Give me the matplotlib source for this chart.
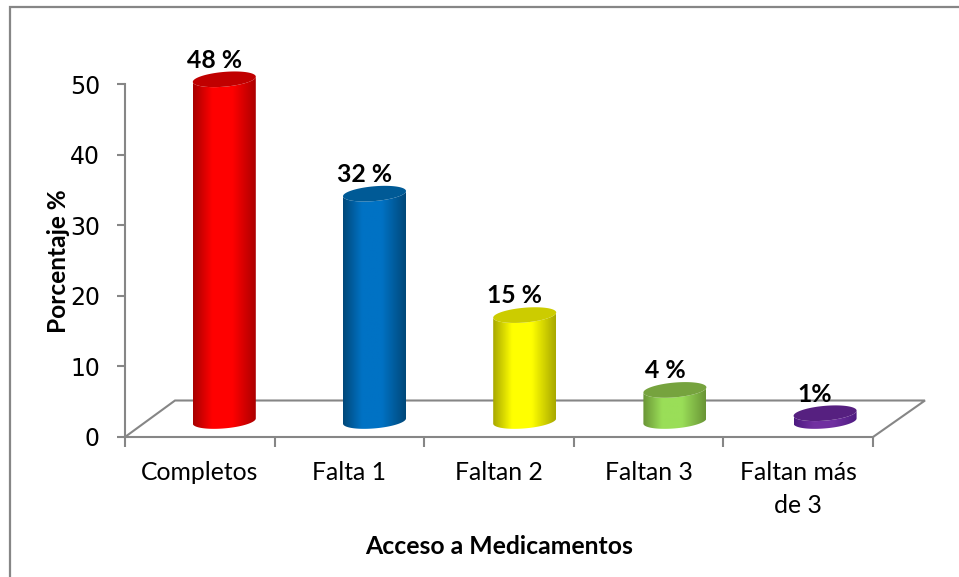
import numpy as np
import matplotlib
matplotlib.use("Agg")
import matplotlib.pyplot as plt
from matplotlib.lines import Line2D
from matplotlib.patches import PathPatch
from matplotlib.path import Path
from matplotlib.colors import LinearSegmentedColormap

categories = ["Completos", "Falta 1", "Faltan 2", "Faltan 3", "Faltan más\nde 3"]
values = [48.4, 32.2, 15.0, 4.4, 1.1]
value_labels = ["48 %", "32 %", "15 %", "4 %", "1%"]
body_edge = ["#a80000", "#00487a", "#a8a800", "#6a9536", "#4d1a80"]
body_mid = ["#ff0000", "#0072c4", "#ffff00", "#9ade58", "#7030a0"]
top_colors = ["#c00000", "#005a96", "#cccc00", "#76a33e", "#562080"]
y_ticks = [0, 10, 20, 30, 40, 50]
GRAY = "#868686"

W, H = 959, 577
plt.rcParams["font.family"] = ["Lato", "DejaVu Sans"]
fig = plt.figure(figsize=(W / 100, H / 100), dpi=100)
L, R, T, B = 125, 873, 84, 437
ax = fig.add_axes([L / W, 1 - B / H, (R - L) / W, (B - T) / H])
ax.set_xlim(0, 5)
ax.set_ylim(0, 50)
px_x = 5 / (R - L)
px_y = 50 / (B - T)

# outer frame: only the left and top edges are visible
fx0, fy0 = 9.5 / W, 1 - 7 / H
fig.add_artist(Line2D([fx0, fx0, 1], [0, fy0, fy0], transform=fig.transFigure,
                      color=GRAY, lw=1.6, solid_joinstyle="miter"))

for s in ["top", "right"]:
    ax.spines[s].set_visible(False)
for s in ["left", "bottom"]:
    ax.spines[s].set_color(GRAY)
    ax.spines[s].set_linewidth(1.5)

ax.set_yticks(y_ticks)
ax.set_xticks(np.arange(6))
ax.set_xticklabels([])
ax.set_xticks(np.arange(5) + 0.5, labels=categories, minor=True)
ax.tick_params(axis="y", length=6, width=1.5, color=GRAY, labelsize=17, pad=12,
               labelfontfamily="DejaVu Sans")
ax.tick_params(axis="x", which="major", length=7, width=1.5, color=GRAY)
ax.tick_params(axis="x", which="minor", length=0, labelsize=17.8, pad=17.6)
for t in ax.get_xticklabels(minor=True):
    t.set_linespacing(1.5)

# 3-D floor
dx, dy = 50 * px_x, 36.5 * px_y
xf = [0, dx, 5 + 52 * px_x, 5]
yf = [0, dy, dy, 0]
ax.plot(xf, yf, color=GRAY, lw=1.5, clip_on=False, zorder=1, solid_joinstyle="miter")

# cylinders
a, b, s = 31.5 * px_x, 7.4 * px_y, 2.6 * px_y
cx_shift, cy_shift = 24.5 * px_x, 16 * px_y
bar_step = 1.004
t_front = np.linspace(np.pi, 2 * np.pi, 60)
t_all = np.linspace(0, 2 * np.pi, 120)


def rim(cx, cy, t):
    return cx + a * np.cos(t), cy + b * np.sin(t) + s * np.cos(t)


for i, v in enumerate(values):
    cx = i * bar_step + 0.5 + cx_shift
    x0, y0 = rim(cx, cy_shift, t_front)
    x1, y1 = rim(cx, cy_shift + v, t_front)
    verts = np.vstack([np.c_[x0, y0], np.c_[x1, y1][::-1], [[x0[0], y0[0]]]])
    clip = PathPatch(Path(verts), transform=ax.transData, fc="none", ec="none")
    ax.add_patch(clip)
    clip.set_clip_on(False)
    cmap = LinearSegmentedColormap.from_list(
        "c", [(0, body_edge[i]), (0.3, body_mid[i]), (0.62, body_mid[i]), (1, body_edge[i])])
    im = ax.imshow(np.linspace(0, 1, 128)[None, :], cmap=cmap, aspect="auto",
                   extent=[cx - a, cx + a, cy_shift - 2, cy_shift + v + 2],
                   zorder=3, interpolation="bilinear")
    im.set_clip_path(clip)
    im.set_clip_box(fig.bbox)
    xt, yt = rim(cx, cy_shift + v, t_all)
    ax.fill(xt, yt, color=top_colors[i], zorder=4, clip_on=False, lw=0)
    ax.annotate(value_labels[i], (cx, cy_shift + v), xytext=(-7.2, 13.8),
                textcoords="offset points", ha="center", va="center",
                fontsize=17.8, fontweight="bold", color="black", annotation_clip=False, zorder=5)

ax.set_xlim(0, 5)
ax.set_ylim(0, 50)

fig.text(59 / W, 1 - 261 / H, "Porcentaje %", rotation=90, ha="center", va="center",
         fontsize=17.6, fontweight="bold")
fig.text(499 / W, 1 - 547 / H, "Acceso a Medicamentos", ha="center", va="center",
         fontsize=17.8, fontweight="bold")

fig.savefig("out.png", dpi=100, facecolor="white")
